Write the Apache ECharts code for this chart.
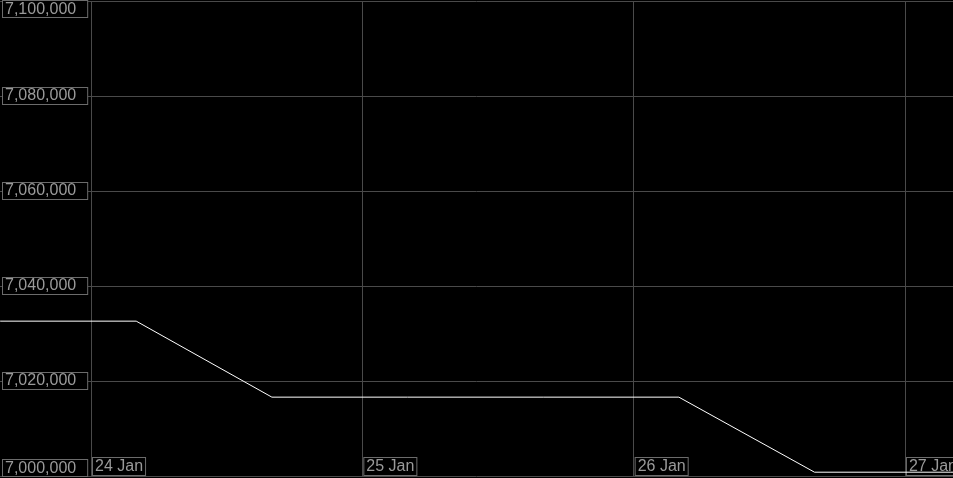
<!DOCTYPE html>
<html>
<head>
<meta charset="utf-8">
<script src="https://cdn.jsdelivr.net/npm/echarts@6/dist/echarts.min.js"></script>
<style>
html,body{margin:0;padding:0;background:#000;}
#chart{width:953px;height:478px;}
</style>
</head>
<body>
<div id="chart"></div>
<script>
const times = ['2024-01-23T04:00', '2024-01-23T16:00', '2024-01-24T04:00', '2024-01-24T16:00',
               '2024-01-25T04:00', '2024-01-25T16:00', '2024-01-26T04:00', '2024-01-26T16:00',
               '2024-01-27T04:00', '2024-01-27T16:00'];
const values = [7032600, 7032600, 7032600, 7016600, 7016600, 7016600, 7016600, 7000800, 7000800, 7000800];
const xRange = ['2024-01-23T15:57', '2024-01-27T04:15'];
const yTicks = [7000000, 7020000, 7040000, 7060000, 7080000, 7100000];
const monthNames = ['Jan','Feb','Mar','Apr','May','Jun','Jul','Aug','Sep','Oct','Nov','Dec'];

const ts = s => new Date(s).getTime();
const seriesData = times.map((t, i) => [ts(t), values[i]]);

const FONT = 'Liberation Sans, Arial, sans-serif';
const TEXT_COLOR = '#9a9a9a';
const BOX_BORDER = '#6c6c6c';
const GRID_COLOR = '#4a4a4a';

const chart = echarts.init(document.getElementById('chart'), null, {renderer: 'canvas'});
chart.setOption({
  backgroundColor: '#000',
  animation: false,
  grid: {left: 0, right: 0, top: 1, bottom: 2, containLabel: false, outerBoundsMode: 'none'},
  xAxis: {
    type: 'time',
    min: ts(xRange[0]),
    max: ts(xRange[1]),
    minInterval: 86400000,
    maxInterval: 86400000,
    axisLine: {show: false},
    axisTick: {show: false},
    splitLine: {show: true, showMinLine: false, showMaxLine: false, lineStyle: {color: GRID_COLOR, width: 1}},
    axisLabel: {
      inside: true,
      margin: 2,
      align: 'left',
      showMinLabel: false,
      showMaxLabel: false,
      hideOverlap: false,
      formatter: function (v) {
        const d = new Date(v);
        return '{s|}{b|' + d.getDate() + ' ' + monthNames[d.getMonth()] + '}';
      },
      rich: {
        s: {width: 2},
        b: {
          color: TEXT_COLOR, fontFamily: FONT, fontSize: 16, lineHeight: 15,
          borderColor: BOX_BORDER, borderWidth: 1, backgroundColor: '#000',
          padding: [1, 2, 0, 2]
        }
      }
    }
  },
  yAxis: {
    type: 'value',
    min: yTicks[0],
    max: yTicks[yTicks.length - 1],
    interval: yTicks[1] - yTicks[0],
    axisLine: {show: false},
    axisTick: {show: false},
    splitLine: {show: true, lineStyle: {color: GRID_COLOR, width: 1}},
    axisLabel: {
      inside: true,
      margin: 3,
      align: 'left',
      verticalAlignMaxLabel: 'top',
      verticalAlignMinLabel: 'bottom',
      color: TEXT_COLOR,
      fontFamily: FONT,
      fontSize: 16,
      lineHeight: 15,
      borderColor: BOX_BORDER,
      borderWidth: 1,
      backgroundColor: '#000',
      padding: [1, 11, 0, 2],
      formatter: function (v) { return v.toLocaleString('en-US'); }
    }
  },
  series: [{
    type: 'line',
    data: seriesData,
    showSymbol: false,
    symbol: 'none',
    clip: true,
    lineStyle: {color: '#ffffff', width: 1},
    z: 1
  }]
});
</script>
</body>
</html>
